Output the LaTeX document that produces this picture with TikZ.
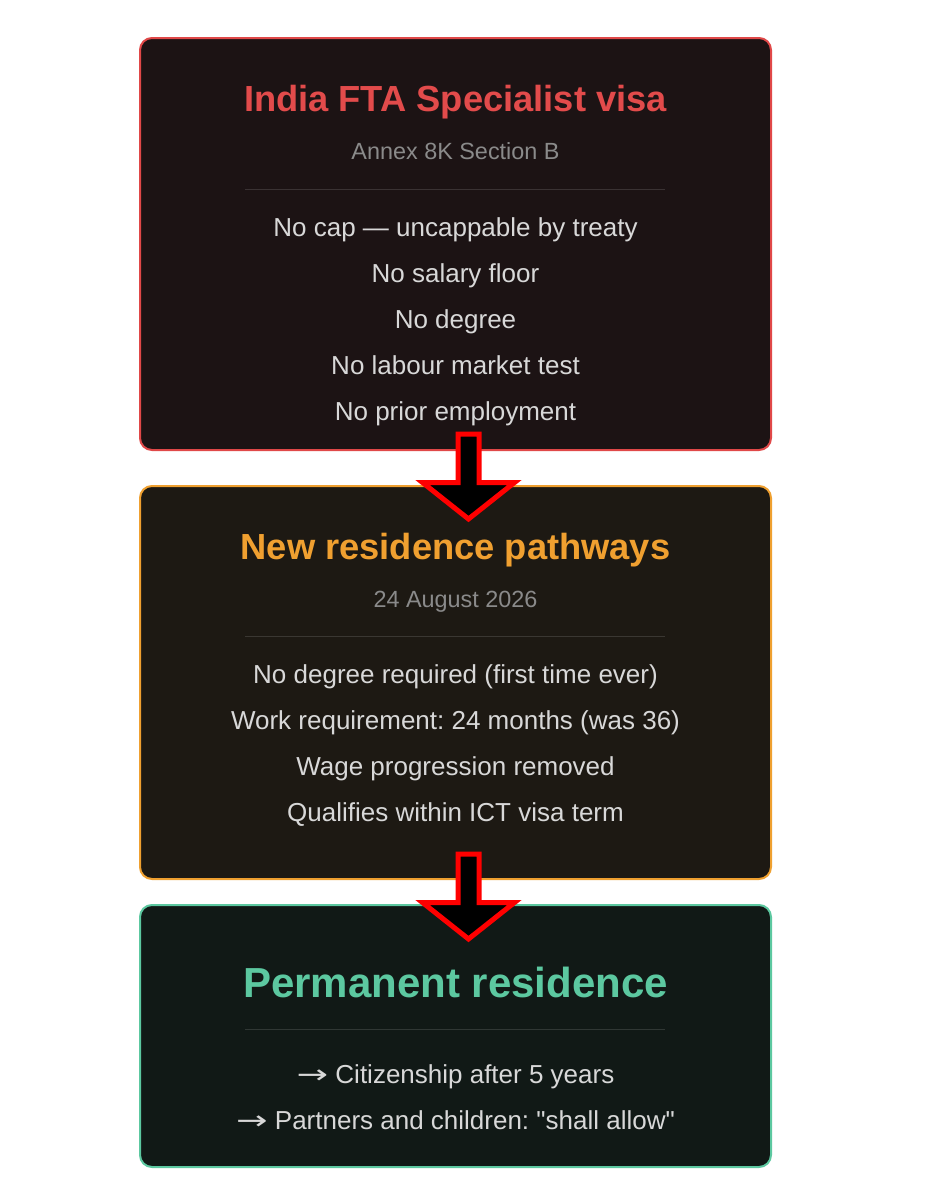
\documentclass[tikz,border=0pt]{standalone}
\usepackage{fontspec}
\usepackage{graphicx}
\setmainfont{Liberation Sans}[Ligatures=TeXOff]
\newfontfamily\arrfont{DejaVu Sans}
\usetikzlibrary{calc}
\frenchspacing
\definecolor{redB}{HTML}{E04848}
\definecolor{redT}{HTML}{E24B4B}
\definecolor{redF}{HTML}{1C1314}
\definecolor{orgB}{HTML}{EFA030}
\definecolor{orgT}{HTML}{F0A030}
\definecolor{orgF}{HTML}{1D1913}
\definecolor{grnB}{HTML}{5CC8A0}
\definecolor{grnT}{HTML}{5CC8A0}
\definecolor{grnF}{HTML}{111916}
\definecolor{itemC}{HTML}{D8D8D8}
\definecolor{subC}{HTML}{8A8A8A}
\newcommand{\rarr}{\scalebox{1.45}[1]{\arrfont →}}
\begin{document}
\begin{tikzpicture}[x=1pt,y=-1pt,
  card/.style={draw=#1, line width=2pt, rounded corners=12pt, minimum width=631pt, inner sep=0pt},
  ttl/.style={anchor=base, font=\fontsize{36.3}{40}\selectfont\bfseries, inner sep=0pt},
  subt/.style={anchor=base, font=\fontsize{23.4}{26}\selectfont, text=subC, inner sep=0pt},
  item/.style={anchor=base, font=\fontsize{26}{30}\selectfont\frenchspacing, text=itemC, inner sep=0pt},
  sep/.style={line width=1pt},
  blockarrow/.style={draw=red, fill=black, line width=5pt, line join=miter, miter limit=10}
]
\useasboundingbox (0,0) rectangle (936,1200);
\fill[white] (0,0) rectangle (936,1200);

% cards
\node[card=redB, fill=redF, minimum height=412pt] (box1) at (455.5,244) {};
\node[card=orgB, fill=orgF, minimum height=393pt] (box2) at (455.5,682.5) {};
\node[card=grnB, fill=grnF, minimum height=262pt] (box3) at (455.5,1036) {};

% card 1
\node[ttl, text=redT] (t1) at (455.5,111) {India FTA Specialist visa};
\node[subt] (s1) at (455.5,159) {Annex 8K Section B};
\coordinate (l1a) at (245,189); \coordinate (l1b) at (665,189);
\draw[sep, draw=white!13!redF] (l1a) -- (l1b);
\node[item] (a1) at (455.5,236) {No cap — uncappable by treaty};
\node[item] (a2) at (455.5,282) {No salary floor};
\node[item] (a3) at (455.5,328) {No degree};
\node[item] (a4) at (455.5,374) {No labour market test};
\node[item] (a5) at (455.5,420) {No prior employment};

% card 2
\node[ttl, text=orgT] (t2) at (455.5,559) {New residence pathways};
\node[subt] (s2) at (455.5,607) {24 August 2026};
\coordinate (l2a) at (245,636); \coordinate (l2b) at (665,636);
\draw[sep, draw=white!13!orgF] (l2a) -- (l2b);
\node[item] (b1) at (455.5,683) {No degree required (first time ever)};
\node[item] (b2) at (455.5,729) {Work requirement: 24 months (was 36)};
\node[item] (b3) at (455.5,775) {Wage progression removed};
\node[item] (b4) at (455.5,821) {Qualifies within ICT visa term};

% card 3
\node[ttl, text=grnT, font=\fontsize{42}{46}\selectfont\bfseries] (t3) at (455.5,997) {Permanent residence};
\coordinate (l3a) at (245,1029); \coordinate (l3b) at (665,1029);
\draw[sep, draw=white!13!grnF] (l3a) -- (l3b);
\node[item] (c1) at (455.5,1083) {\rarr{} Citizenship after 5 years};
\node[item] (c2) at (455.5,1129) {\rarr{} Partners and children: "shall allow"};

% block arrows
\coordinate (ar1) at (468.5,434);
\coordinate (ar2) at (468.5,854);
\foreach \a in {ar1,ar2}{
  \draw[blockarrow] ($(\a)+(-10.5,0)$) -- ($(\a)+(10.5,0)$) -- ($(\a)+(10.5,48.5)$)
    -- ($(\a)+(46,48.5)$) -- ($(\a)+(0,85)$) -- ($(\a)+(-46,48.5)$)
    -- ($(\a)+(-10.5,48.5)$) -- cycle;
}
\end{tikzpicture}
\end{document}
